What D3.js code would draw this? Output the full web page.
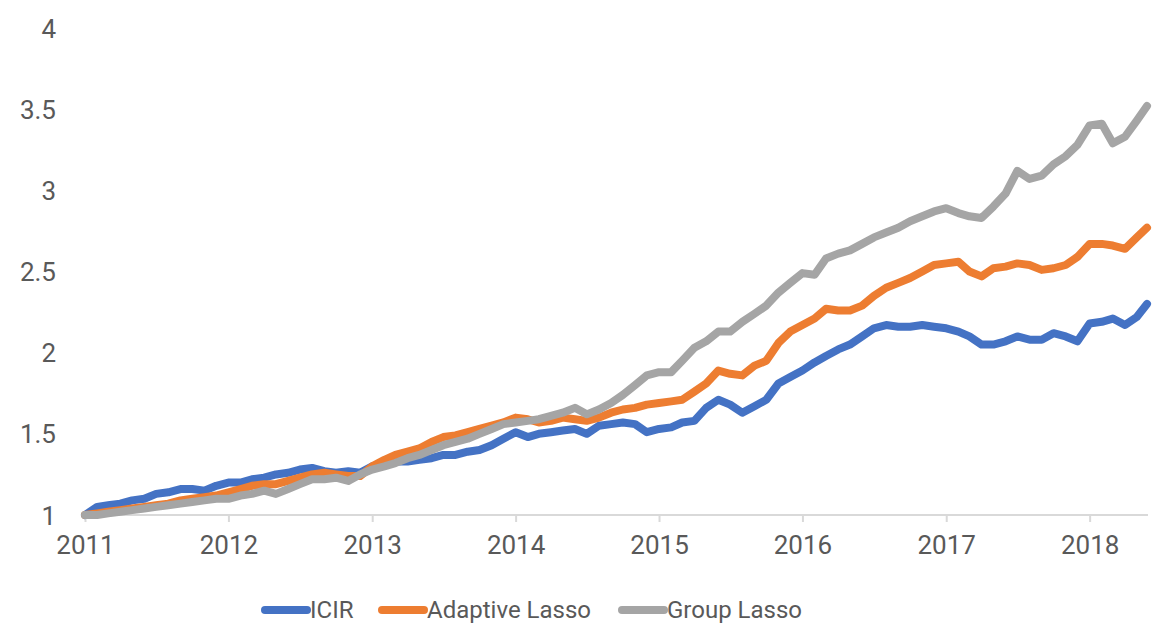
<!DOCTYPE html>
<html>
<head>
<meta charset="utf-8">
<script src="https://cdn.jsdelivr.net/npm/d3@7"></script>
<style>
  html, body { margin: 0; padding: 0; background: #fff; }
  svg { display: block; }
</style>
</head>
<body>
<svg id="chart" width="1164" height="639"></svg>
<script>
// ---- Data (monthly) ----
const dates = [
  "2011-01-01","2011-02-01","2011-03-01","2011-04-01","2011-05-01","2011-06-01","2011-07-01","2011-08-01","2011-09-01","2011-10-01","2011-11-01","2011-12-01",
  "2012-01-01","2012-02-01","2012-03-01","2012-04-01","2012-05-01","2012-06-01","2012-07-01","2012-08-01","2012-09-01","2012-10-01","2012-11-01","2012-12-01",
  "2013-01-01","2013-02-01","2013-03-01","2013-04-01","2013-05-01","2013-06-01","2013-07-01","2013-08-01","2013-09-01","2013-10-01","2013-11-01","2013-12-01",
  "2014-01-01","2014-02-01","2014-03-01","2014-04-01","2014-05-01","2014-06-01","2014-07-01","2014-08-01","2014-09-01","2014-10-01","2014-11-01","2014-12-01",
  "2015-01-01","2015-02-01","2015-03-01","2015-04-01","2015-05-01","2015-06-01","2015-07-01","2015-08-01","2015-09-01","2015-10-01","2015-11-01","2015-12-01",
  "2016-01-01","2016-02-01","2016-03-01","2016-04-01","2016-05-01","2016-06-01","2016-07-01","2016-08-01","2016-09-01","2016-10-01","2016-11-01","2016-12-01",
  "2017-01-01","2017-02-01","2017-03-01","2017-04-01","2017-05-01","2017-06-01","2017-07-01","2017-08-01","2017-09-01","2017-10-01","2017-11-01","2017-12-01",
  "2018-01-01","2018-02-01","2018-03-01","2018-04-01","2018-05-01","2018-05-27"
];

const icir = [
  1.00,1.05,1.06,1.07,1.09,1.10,1.13,1.14,1.16,1.16,1.15,1.18,
  1.20,1.20,1.22,1.23,1.25,1.26,1.28,1.29,1.27,1.26,1.27,1.26,
  1.30,1.31,1.33,1.33,1.34,1.35,1.37,1.37,1.39,1.40,1.43,1.47,
  1.51,1.48,1.50,1.51,1.52,1.53,1.50,1.55,1.56,1.57,1.56,1.51,
  1.53,1.54,1.57,1.58,1.66,1.71,1.68,1.63,1.67,1.71,1.81,1.85,
  1.89,1.94,1.98,2.02,2.05,2.10,2.15,2.17,2.16,2.16,2.17,2.16,
  2.15,2.13,2.10,2.05,2.05,2.07,2.10,2.08,2.08,2.12,2.10,2.07,
  2.18,2.19,2.21,2.17,2.22,2.30
];

const adaptiveLasso = [
  1.00,1.01,1.02,1.03,1.04,1.05,1.06,1.07,1.09,1.10,1.11,1.12,
  1.14,1.16,1.18,1.19,1.19,1.21,1.23,1.25,1.26,1.25,1.24,1.24,
  1.30,1.34,1.37,1.39,1.41,1.45,1.48,1.49,1.51,1.53,1.55,1.57,
  1.60,1.59,1.57,1.58,1.60,1.59,1.58,1.60,1.63,1.65,1.66,1.68,
  1.69,1.70,1.71,1.76,1.81,1.89,1.87,1.86,1.92,1.95,2.06,2.13,
  2.17,2.21,2.27,2.26,2.26,2.29,2.35,2.40,2.43,2.46,2.50,2.54,
  2.55,2.56,2.50,2.47,2.52,2.53,2.55,2.54,2.51,2.52,2.54,2.59,
  2.67,2.67,2.66,2.64,2.71,2.77
];

const groupLasso = [
  1.00,1.00,1.01,1.02,1.03,1.04,1.05,1.06,1.07,1.08,1.09,1.10,
  1.10,1.12,1.13,1.15,1.13,1.16,1.19,1.22,1.22,1.23,1.21,1.25,
  1.28,1.30,1.32,1.35,1.37,1.40,1.43,1.45,1.47,1.50,1.53,1.56,
  1.57,1.58,1.59,1.61,1.63,1.66,1.62,1.65,1.69,1.74,1.80,1.86,
  1.88,1.88,1.95,2.03,2.07,2.13,2.13,2.19,2.24,2.29,2.37,2.43,
  2.49,2.48,2.58,2.61,2.63,2.67,2.71,2.74,2.77,2.81,2.84,2.87,
  2.89,2.86,2.84,2.83,2.90,2.98,3.12,3.07,3.09,3.16,3.21,3.28,
  3.40,3.41,3.29,3.33,3.43,3.52
];

const seriesNames = ["ICIR", "Adaptive Lasso", "Group Lasso"];
const seriesColors = ["#4472C4", "#ED7D31", "#A5A5A5"];
const yTicks = [1, 1.5, 2, 2.5, 3, 3.5, 4];
const xTickLabels = ["2011","2012","2013","2014","2015","2016","2017","2018"];

// ---- Layout ----
const svg = d3.select("#chart");
const parse = d3.timeParse("%Y-%m-%d");
const dateObjs = dates.map(parse);
const plotLeft = 85, plotRight = 1147, plotTop = 28, plotBottom = 515;
const fontFamily = "Roboto, 'Open Sans', sans-serif";
const textColor = "#595959";

const x = d3.scaleTime()
  .domain([parse("2011-01-01"), parse("2018-05-27")])
  .range([plotLeft, plotRight]);
const y = d3.scaleLinear().domain([1, 4]).range([plotBottom, plotTop]);

// Y axis labels (no line)
const yAxis = d3.axisLeft(y).tickValues(yTicks).tickSize(0).tickPadding(0)
  .tickFormat(d3.format("~g"));
const gy = svg.append("g").attr("transform", `translate(56,0)`).call(yAxis);
gy.select(".domain").remove();
gy.selectAll("text").attr("font-family", fontFamily).attr("font-size", 26)
  .attr("fill", textColor).attr("dy", "0.35em");

// X axis
const xTickDates = xTickLabels.map(s => parse(s + "-01-01"));
const xAxis = d3.axisBottom(x).tickValues(xTickDates).tickSize(7).tickPadding(14)
  .tickFormat((d, i) => xTickLabels[i]);
const gx = svg.append("g").attr("transform", `translate(0,${plotBottom})`).call(xAxis);
gx.select(".domain").attr("d", `M${plotLeft},0H${plotRight + 1}`)
  .attr("stroke", "#d9d9d9").attr("stroke-width", 2);
gx.selectAll(".tick line").attr("stroke", "#d9d9d9").attr("stroke-width", 2);
gx.selectAll("text").attr("font-family", fontFamily).attr("font-size", 26)
  .attr("fill", textColor);

// Lines
const allSeries = [icir, adaptiveLasso, groupLasso];
const line = d3.line()
  .x((d, i) => x(dateObjs[i]))
  .y(d => y(d));
allSeries.forEach((vals, k) => {
  svg.append("path")
    .datum(vals)
    .attr("d", line)
    .attr("fill", "none")
    .attr("stroke", seriesColors[k])
    .attr("stroke-width", 8)
    .attr("stroke-linejoin", "round")
    .attr("stroke-linecap", "round");
});

// Legend
const legendY = 610;
const legendItems = [
  { x0: 265, x1: 307, tx: 310 },
  { x0: 382, x1: 424, tx: 427 },
  { x0: 622, x1: 664, tx: 667 }
];
const lg = svg.append("g");
legendItems.forEach((it, k) => {
  lg.append("line")
    .attr("x1", it.x0).attr("x2", it.x1)
    .attr("y1", legendY).attr("y2", legendY)
    .attr("stroke", seriesColors[k]).attr("stroke-width", 8)
    .attr("stroke-linecap", "round");
  lg.append("text")
    .attr("x", it.tx).attr("y", legendY).attr("dy", "0.35em")
    .attr("font-family", fontFamily).attr("font-size", 24)
    .attr("fill", textColor)
    .text(seriesNames[k]);
});
</script>
</body>
</html>
